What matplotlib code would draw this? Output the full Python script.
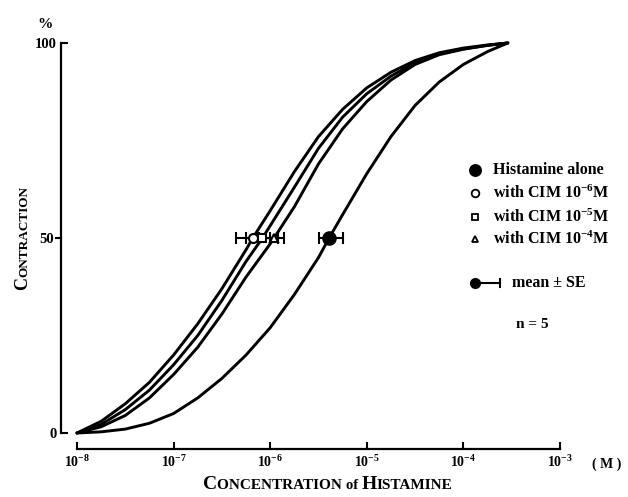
import numpy as np
import matplotlib
matplotlib.use("Agg")
import matplotlib.pyplot as plt

# Data (x given as log10 of histamine concentration, y as % contraction)
log_conc_cim6 = [-8.0, -7.75, -7.5, -7.25, -7.0, -6.75, -6.5, -6.25, -6.18, -6.0, -5.75, -5.5, -5.25, -5.0, -4.75, -4.5, -4.25, -4.0, -3.75, -3.54]
pct_cim6 = [0, 3, 7.5, 13, 20, 28, 37, 47, 50, 57, 67, 76, 83, 88.5, 92.5, 95.5, 97.5, 98.7, 99.5, 100]

log_conc_cim5 = [-8.0, -7.75, -7.5, -7.25, -7.0, -6.75, -6.5, -6.25, -6.08, -5.75, -5.5, -5.25, -5.0, -4.75, -4.5, -4.25, -4.0, -3.75, -3.54]
pct_cim5 = [0, 2.2, 6, 11, 17.5, 25, 34, 44, 50, 63, 73, 81, 87, 91.5, 95, 97.2, 98.5, 99.4, 100]

log_conc_cim4 = [-8.0, -7.75, -7.5, -7.25, -7.0, -6.75, -6.5, -6.25, -6.0, -5.96, -5.75, -5.5, -5.25, -5.0, -4.75, -4.5, -4.25, -4.0, -3.75, -3.54]
pct_cim4 = [0, 1.6, 4.5, 9, 15, 22, 30.5, 40, 48.5, 50, 58, 69, 78, 85, 90.5, 94.5, 97, 98.4, 99.4, 100]

log_conc_hist = [-8.0, -7.75, -7.5, -7.25, -7.0, -6.75, -6.5, -6.25, -6.0, -5.75, -5.5, -5.39, -5.25, -5.0, -4.75, -4.5, -4.25, -4.0, -3.75, -3.54]
pct_hist = [0, 0.3, 1, 2.5, 5, 9, 14, 20, 27, 35.5, 45, 50, 56, 66.5, 76, 84, 90, 94.5, 97.8, 100]

# EC50 means and SE range (log10 M)
ec50_log = {"hist": -5.39, "cim6": -6.18, "cim5": -6.08, "cim4": -5.96}
ec50_lo = {"hist": -5.50, "cim6": -6.35, "cim5": -6.25, "cim4": -6.12}
ec50_hi = {"hist": -5.25, "cim6": -6.00, "cim5": -5.92, "cim4": -5.86}

x_tick_exp = [-8, -7, -6, -5, -4, -3]
y_ticks = [0, 100]
y_mid_tick = [50]

plt.rcParams["font.family"] = ["Liberation Serif", "DejaVu Serif"]
plt.rcParams["font.weight"] = "bold"
plt.rcParams["mathtext.fontset"] = "custom"
plt.rcParams["mathtext.rm"] = "Liberation Serif:bold"
plt.rcParams["mathtext.bf"] = "Liberation Serif:bold"

W, H = 628, 497
fig = plt.figure(figsize=(W / 100, H / 100), dpi=100)
ax = fig.add_axes([77 / W, 64 / H, 483 / W, 390 / H])
ax.set_xscale("log")
ax.set_xlim(1e-8, 1e-3)
ax.set_ylim(0, 100)

lw = 2.1
for lx, py in [(log_conc_cim6, pct_cim6), (log_conc_cim5, pct_cim5),
               (log_conc_cim4, pct_cim4), (log_conc_hist, pct_hist)]:
    ax.plot(10.0 ** np.array(lx), py, color="black", lw=lw, clip_on=False,
            solid_capstyle="round", solid_joinstyle="round")

# means with SE
markers = {"hist": ("o", "black", 9), "cim6": ("o", "white", 6.5),
           "cim5": ("s", "white", 5.5), "cim4": ("^", "white", 6)}
for key in ["cim4", "cim5", "cim6", "hist"]:
    m, fc, ms = markers[key]
    xm = 10.0 ** ec50_log[key]
    xerr = [[xm - 10.0 ** ec50_lo[key]], [10.0 ** ec50_hi[key] - xm]]
    ax.errorbar([xm], [50], xerr=xerr, fmt=m, mfc=fc, mec="black", mew=1.5,
                ms=ms, color="black", elinewidth=1.5, capsize=4, capthick=1.5,
                zorder=5, clip_on=False)

# axes styling
for s in ["top", "right"]:
    ax.spines[s].set_visible(False)
ax.spines["left"].set_position(("outward", 11.5))
ax.spines["bottom"].set_position(("outward", 11.5))
ax.spines["left"].set_bounds(0, 100)
ax.spines["bottom"].set_bounds(1e-8, 1e-3)
ax.spines["left"].set_linewidth(1.6)
ax.spines["bottom"].set_linewidth(1.6)

ax.set_xticks([10.0 ** e for e in x_tick_exp])
ax.set_xticklabels([r"$\mathregular{10^{%d}}$" % e for e in x_tick_exp])
ax.xaxis.set_minor_locator(matplotlib.ticker.NullLocator())
ax.tick_params(axis="x", direction="in", length=5, width=1.5, pad=4, labelsize=10)

ax.set_yticks(y_ticks)
ax.set_yticklabels([str(v) for v in y_ticks])
ax.set_yticks(y_mid_tick, minor=True)
ax.set_yticklabels([str(v) for v in y_mid_tick], minor=True)
ax.tick_params(axis="y", which="major", direction="in", length=5, width=1.5, pad=3, labelsize=10.5)
ax.tick_params(axis="y", which="minor", direction="out", length=4, width=1.5, pad=1, labelsize=10.5)

def fy(y):
    return 1 - y / H

fig.text(45 / W, fy(24), "%", fontsize=11, ha="center", va="center")
fig.text(607 / W, fy(464), "( M )", fontsize=10, ha="center", va="center")

# small caps titles
renderer = fig.canvas.get_renderer()

def small_caps(x, y, parts, rotation=0):
    for txt, size in parts:
        t = fig.text(x / W, y / H, txt, fontsize=size, ha="left", va="baseline",
                     rotation=rotation, rotation_mode="anchor")
        bb = t.get_window_extent(renderer)
        if rotation == 0:
            x += bb.width
        else:
            y += bb.height

small_caps(203, H - 489, [("C", 14), ("ONCENTRATION ", 11), ("of ", 10.5),
                          ("H", 14), ("ISTAMINE", 11)])
small_caps(27, H - 290, [("C", 13), ("ONTRACTION", 9.5)], rotation=90)

# legend
leg_x = 475
rows = [("o", "black", 8, "Histamine alone", 170),
        ("o", "white", 5.5, r"with CIM $\mathregular{10^{-6}}$M", 193),
        ("s", "white", 5, r"with CIM $\mathregular{10^{-5}}$M", 217),
        ("^", "white", 5, r"with CIM $\mathregular{10^{-4}}$M", 239)]
for m, fc, ms, label, yy in rows:
    fig.lines.append(matplotlib.lines.Line2D([leg_x / W], [fy(yy)], marker=m, mfc=fc,
                                             mec="black", mew=1.3, ms=ms,
                                             transform=fig.transFigure))
    fig.text(493 / W, fy(yy), label, fontsize=11.5, ha="left", va="center")

fig.lines.append(matplotlib.lines.Line2D([leg_x / W, 500 / W], [fy(283), fy(283)],
                                         color="black", lw=1.5, transform=fig.transFigure))
fig.lines.append(matplotlib.lines.Line2D([leg_x / W], [fy(283)], marker="o", color="black",
                                         ms=7, transform=fig.transFigure))
fig.lines.append(matplotlib.lines.Line2D([500 / W, 500 / W], [fy(279), fy(287)],
                                         color="black", lw=1.5, transform=fig.transFigure))
fig.text(512 / W, fy(283), "mean ± SE", fontsize=11.5, ha="left", va="center")
fig.text(516 / W, fy(324), "n = 5", fontsize=11, ha="left", va="center")

fig.savefig("out.png", dpi=100)
